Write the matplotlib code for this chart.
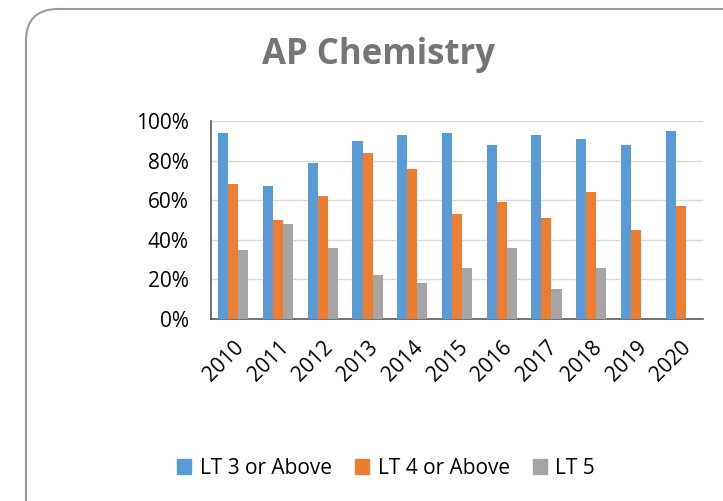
import matplotlib
matplotlib.use("Agg")
import matplotlib.pyplot as plt
import numpy as np
from matplotlib.patches import FancyBboxPatch, Patch

years = ["2010", "2011", "2012", "2013", "2014", "2015", "2016", "2017", "2018", "2019", "2020"]
lt3 = [94, 67, 79, 90, 93, 94, 88, 93, 91, 88, 95]
lt4 = [68, 50, 62, 84, 76, 53, 59, 51, 64, 45, 57]
lt5 = [35, 48, 36, 22, 18, 26, 36, 15, 26, 0, 0]
series_names = ["LT 3 or Above", "LT 4 or Above", "LT 5"]
colors = ["#5B9BD5", "#ED7D31", "#A5A5A5"]

plt.rcParams['font.family'] = ['Open Sans', 'DejaVu Sans']

W, H = 723, 501
fig = plt.figure(figsize=(W / 100, H / 100), dpi=100)

# background frame
bg = fig.add_axes([0, 0, 1, 1], zorder=0)
bg.set_xlim(0, W)
bg.set_ylim(H, 0)
bg.axis("off")
frame = FancyBboxPatch((26, 9), 760, 560, boxstyle="round,pad=0,rounding_size=32",
                       fc="white", ec="#9a9a9a", lw=1.5)
bg.add_patch(frame)

ax = fig.add_axes([211 / W, 1 - 319 / H, (703 - 211) / W, (319 - 121) / H], zorder=1)
ax.set_facecolor("none")
x = np.arange(len(years))
bw = 0.225
for i, (vals, c) in enumerate(zip([lt3, lt4, lt5], colors)):
    ax.bar(x + (i - 1) * bw, vals, width=bw, color=c, zorder=3, label=series_names[i])

ax.set_xlim(-0.5, len(years) - 0.5)
ax.set_ylim(0, 100)
ax.set_yticks(range(0, 101, 20))
ax.set_yticklabels([f"{v}%" for v in range(0, 101, 20)], fontsize=15)
ax.set_xticks(x)
ax.set_xticklabels(years, rotation=45, ha="right", rotation_mode="anchor", fontsize=15)
ax.tick_params(axis="both", length=0)
ax.tick_params(axis="y", pad=16)
ax.tick_params(axis="x", pad=13)
ax.grid(axis="y", color="#d9d9d9", lw=1, zorder=0)
for s in ["top", "right"]:
    ax.spines[s].set_visible(False)
ax.spines["left"].set_color("#595959")
ax.spines["bottom"].set_color("#595959")
ax.spines["left"].set_linewidth(1.2)
ax.spines["bottom"].set_linewidth(1.2)

fig.text(379 / W, 1 - 55 / H, "AP Chemistry", ha="center", va="center",
         fontsize=25, fontweight="bold", color="#757575")

handles = [Patch(color=c) for c in colors]
fig.legend(handles, series_names, loc="center", bbox_to_anchor=(386 / W, 1 - 468 / H),
           ncol=3, frameon=False, fontsize=15, handlelength=0.7, handleheight=0.7,
           handletextpad=0.4, columnspacing=1.1)

fig.savefig("out.png", dpi=100)
